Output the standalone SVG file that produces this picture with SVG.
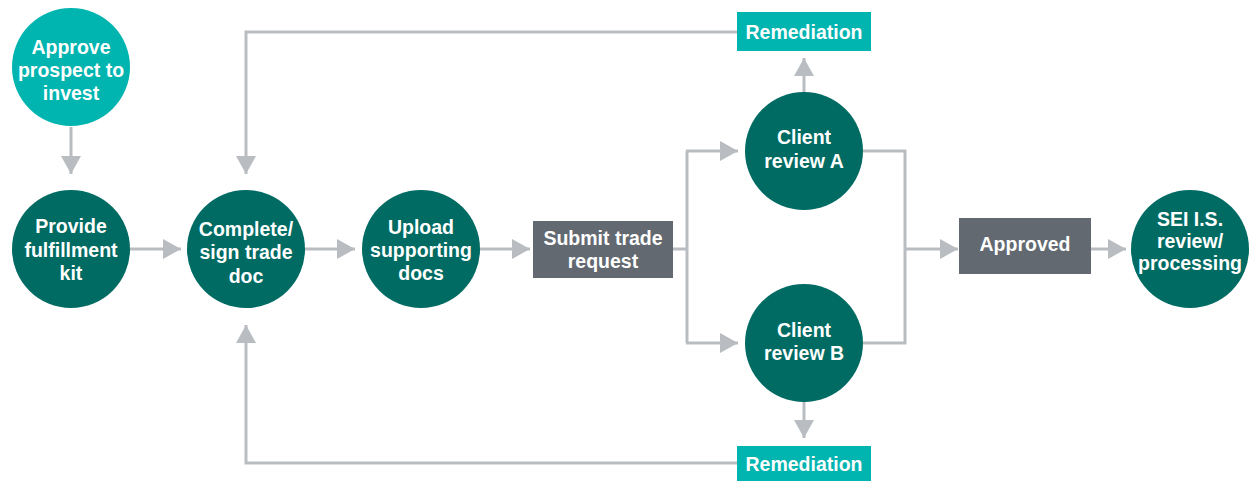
<svg xmlns="http://www.w3.org/2000/svg" width="1252" height="481" viewBox="0 0 1252 481">
<defs>
<style>
.dark{fill:#006b63}
.light{fill:#00b4b0}
.gray{fill:#626970}
.t{font-family:"Liberation Sans",Arial,sans-serif;font-weight:bold;font-size:19.5px;fill:#ffffff;text-anchor:middle}
.c{fill:none;stroke:#b9bdc2;stroke-width:3}
.a{marker-end:url(#ah)}
</style>
<marker id="ah" markerUnits="userSpaceOnUse" markerWidth="19" markerHeight="22" refX="18" refY="11" orient="auto" viewBox="0 0 19 22">
<path d="M0,1 L18,11 L0,21 Z" fill="#b9bdc2"/>
</marker>
</defs>
<rect width="1252" height="481" fill="#ffffff"/>
<g id="connectors">
<path class="c a" d="M71,127 V174"/>
<path class="c a" d="M130,249 H181"/>
<path class="c a" d="M305,249 H355"/>
<path class="c a" d="M480,249 H530"/>
<path class="c" d="M673,249 H687"/>
<path class="c" d="M687,151 V343"/>
<path class="c a" d="M686,151 H738"/>
<path class="c a" d="M686,343 H738"/>
<path class="c a" d="M804,92 V58"/>
<path class="c a" d="M737,32 H246 V174"/>
<path class="c a" d="M804,402 V438"/>
<path class="c a" d="M737,463 H246 V325"/>
<path class="c" d="M863,151 H905 V343 H863"/>
<path class="c a" d="M905,249 H958"/>
<path class="c a" d="M1091,249 H1126"/>
</g>
<g id="approve">
<circle class="light" cx="71" cy="67" r="59"/>
<text class="t" x="71" y="54">Approve</text>
<text class="t" x="71" y="77">prospect to</text>
<text class="t" x="71" y="100">invest</text>
</g>
<g id="provide">
<circle class="dark" cx="71" cy="249" r="59"/>
<text class="t" x="71" y="233">Provide</text>
<text class="t" x="71" y="257">fulfillment</text>
<text class="t" x="71" y="280">kit</text>
</g>
<g id="complete">
<circle class="dark" cx="246" cy="249" r="59"/>
<text class="t" x="246" y="236">Complete/</text>
<text class="t" x="246" y="259">sign trade</text>
<text class="t" x="246" y="283">doc</text>
</g>
<g id="upload">
<circle class="dark" cx="421" cy="249" r="59"/>
<text class="t" x="421" y="234">Upload</text>
<text class="t" x="421" y="257">supporting</text>
<text class="t" x="421" y="280">docs</text>
</g>
<g id="submit">
<rect class="gray" x="533" y="221" width="140" height="57"/>
<text class="t" x="603" y="245">Submit trade</text>
<text class="t" x="603" y="268">request</text>
</g>
<g id="remediation-top">
<rect class="light" x="737" y="12" width="134" height="39"/>
<text class="t" x="804" y="39">Remediation</text>
</g>
<g id="client-a">
<circle class="dark" cx="804" cy="151" r="59"/>
<text class="t" x="804" y="144">Client</text>
<text class="t" x="804" y="168">review A</text>
</g>
<g id="client-b">
<circle class="dark" cx="804" cy="343" r="59"/>
<text class="t" x="804" y="337">Client</text>
<text class="t" x="804" y="360">review B</text>
</g>
<g id="remediation-bottom">
<rect class="light" x="737" y="446" width="134" height="35"/>
<text class="t" x="804" y="471">Remediation</text>
</g>
<g id="approved">
<rect class="gray" x="959" y="218" width="132" height="56"/>
<text class="t" x="1025" y="251">Approved</text>
</g>
<g id="sei">
<circle class="dark" cx="1190" cy="249" r="59"/>
<text class="t" x="1190" y="226">SEI I.S.</text>
<text class="t" x="1190" y="248">review/</text>
<text class="t" x="1190" y="270">processing</text>
</g>
</svg>
